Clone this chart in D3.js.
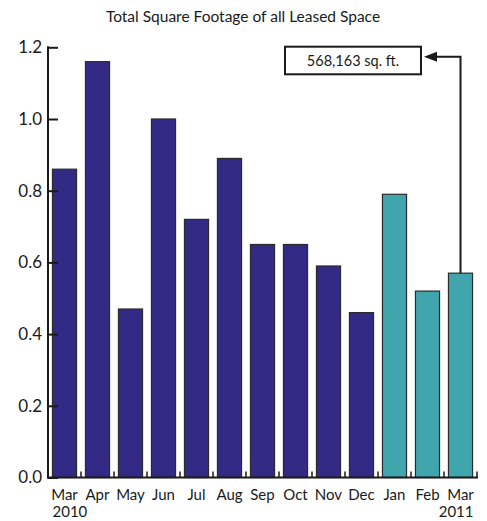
<!DOCTYPE html>
<html>
<head>
<meta charset="utf-8">
<script src="https://cdn.jsdelivr.net/npm/d3@7"></script>
<style>
  html, body { margin: 0; padding: 0; background: #fff; }
  svg { display: block; }
  text { font-family: Lato, "Open Sans", sans-serif; fill: #1a1a1a; }
</style>
</head>
<body>
<svg id="chart" width="487" height="521"></svg>
<script>
const title = "Total Square Footage of all Leased Space";
const months = ["Mar", "Apr", "May", "Jun", "Jul", "Aug", "Sep", "Oct", "Nov", "Dec", "Jan", "Feb", "Mar"];
const years = ["2010", "2011"];
const values = [0.86, 1.16, 0.47, 1.00, 0.72, 0.89, 0.65, 0.65, 0.59, 0.46, 0.79, 0.52, 0.57];
const groups = ["2010", "2010", "2010", "2010", "2010", "2010", "2010", "2010", "2010", "2010", "2011", "2011", "2011"];
const yTicks = [0, 0.2, 0.4, 0.6, 0.8, 1.0, 1.2];
const annotation = "568,163 sq. ft.";
const colors = { "2010": "#332a86", "2011": "#40a5ad" };

const svg = d3.select("#chart");
const x0 = 48, x1 = 477, yTop = 47.3, yBottom = 477.5;

const idx = d3.range(months.length);
const x = d3.scaleBand().domain(idx).range([x0, x1]).paddingInner(0.27).paddingOuter(0.135);
const y = d3.scaleLinear().domain([0, 1.2]).range([yBottom, yTop]);

// title
svg.append("text").attr("x", 243).attr("y", 22).attr("text-anchor", "middle")
  .style("font-size", "15.5px").text(title);

// bars
svg.append("g").selectAll("rect").data(idx).join("rect")
  .attr("x", i => x(i))
  .attr("y", i => y(values[i]))
  .attr("width", x.bandwidth())
  .attr("height", i => y(0) - y(values[i]))
  .attr("fill", i => colors[groups[i]])
  .attr("stroke", "#2b2b2b")
  .attr("stroke-width", 1.2);

// y axis
const yAxis = d3.axisLeft(y).tickValues(yTicks).tickFormat(d3.format(".1f")).tickSize(-10).tickPadding(6);
const gy = svg.append("g").attr("transform", `translate(${x0},0)`).call(yAxis);
gy.select(".domain").remove();
gy.selectAll(".tick line").attr("stroke", "#1a1a1a").attr("stroke-width", 2);
gy.selectAll(".tick text").style("font-size", "17px").attr("fill", "#1a1a1a").attr("font-family", "Lato, sans-serif");
svg.append("line").attr("x1", x0).attr("x2", x0).attr("y1", yTop - 1).attr("y2", yBottom + 1)
  .attr("stroke", "#1a1a1a").attr("stroke-width", 2);

// x axis baseline and between-bar ticks
svg.append("line").attr("x1", x0 - 1).attr("x2", x1 + 1).attr("y1", yBottom).attr("y2", yBottom)
  .attr("stroke", "#1a1a1a").attr("stroke-width", 2);
const step = x.step();
svg.append("g").selectAll("line").data(idx).join("line")
  .attr("x1", i => x(i) + x.bandwidth() + (step - x.bandwidth()) / 2)
  .attr("x2", i => x(i) + x.bandwidth() + (step - x.bandwidth()) / 2)
  .attr("y1", yBottom).attr("y2", yBottom - 6)
  .attr("stroke", "#1a1a1a").attr("stroke-width", 1.5);

// x labels
svg.append("g").selectAll("text").data(idx).join("text")
  .attr("x", i => x(i) + x.bandwidth() / 2)
  .attr("y", 500)
  .attr("text-anchor", "middle")
  .style("font-size", "15px")
  .text(i => months[i]);

const first = 0, last = months.length - 1;
svg.append("text").attr("x", x(first) + x.bandwidth() / 2 - 12).attr("y", 517)
  .attr("text-anchor", "start").style("font-size", "15px").text(years[0]);
svg.append("text").attr("x", x(last) + x.bandwidth() / 2 + 13).attr("y", 517)
  .attr("text-anchor", "end").style("font-size", "15px").text(years[1]);

// annotation
const cx = x(last) + x.bandwidth() / 2;
const arrowY = 56.7;
svg.append("rect").attr("x", 285).attr("y", 46.7).attr("width", 136).attr("height", 27.6)
  .attr("fill", "#fff").attr("stroke", "#1a1a1a").attr("stroke-width", 2);
svg.append("text").attr("x", 353).attr("y", 66).attr("text-anchor", "middle")
  .style("font-size", "14.5px").text(annotation);
svg.append("path")
  .attr("d", `M${cx},${y(values[last])} L${cx},${arrowY} L435,${arrowY}`)
  .attr("fill", "none").attr("stroke", "#1a1a1a").attr("stroke-width", 2);
svg.append("path")
  .attr("d", `M424,${arrowY} L437,${arrowY - 5} L437,${arrowY + 5} Z`)
  .attr("fill", "#1a1a1a");
</script>
</body>
</html>
